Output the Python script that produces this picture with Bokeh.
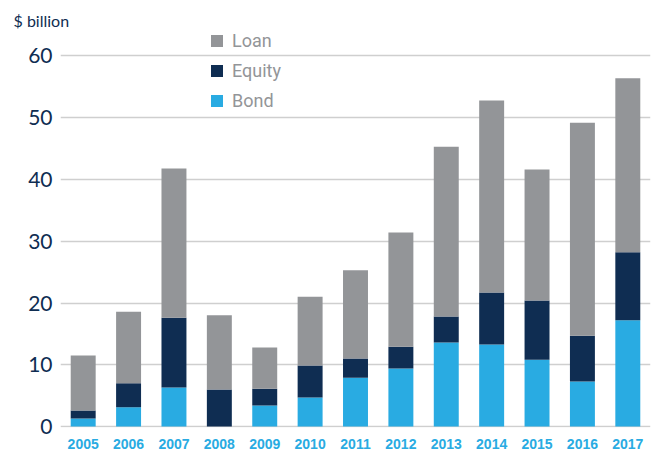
from bokeh.plotting import figure
from bokeh.models import (ColumnDataSource, FactorRange, Range1d, Legend, LegendItem,
                          FixedTicker)
from bokeh.embed import file_html
from bokeh.resources import INLINE

years = ["2005", "2006", "2007", "2008", "2009", "2010", "2011",
         "2012", "2013", "2014", "2015", "2016", "2017"]
bond = [1.3, 3.1, 6.3, 0.0, 3.4, 4.7, 7.9, 9.4, 13.6, 13.3, 10.8, 7.3, 17.2]
equity = [1.3, 3.9, 11.3, 6.0, 2.7, 5.2, 3.1, 3.5, 4.2, 8.4, 9.6, 7.4, 11.0]
loan = [8.9, 11.6, 24.2, 12.0, 6.7, 11.1, 14.3, 18.5, 27.5, 31.1, 21.2, 34.5, 28.2]
y_ticks = [0, 10, 20, 30, 40, 50, 60]

BLUE = "#29abe2"
NAVY = "#0f2d52"
GRAY = "#939598"

source = ColumnDataSource(dict(year=years, bond=bond, equity=equity, loan=loan))

p = figure(
    x_range=FactorRange(*years),
    y_range=Range1d(-0.16, 64.29),
    width=652, height=455,
    output_backend="svg", toolbar_location=None,
    min_border_left=60, min_border_right=2, min_border_top=29, min_border_bottom=28,
    title="$ billion",
)
p.outline_line_color = None
p.background_fill_color = "white"

p.title.text_font = "Lato"
p.title.text_font_size = "16px"
p.title.text_font_style = "normal"
p.title.text_color = NAVY
p.title.align = "left"
p.title.offset = -47
p.title.standoff = 0

renderers = p.vbar_stack(["bond", "equity", "loan"], x="year", width=0.55,
                         fill_color=[BLUE, NAVY, GRAY], line_color=None, source=source)

# axes
p.xaxis.axis_line_color = None
p.xaxis.major_tick_line_color = None
p.xaxis.minor_tick_line_color = None
p.xaxis.major_tick_out = 0
p.xaxis.major_label_standoff = 11
p.xaxis.major_label_text_font = "Liberation Sans"
p.xaxis.major_label_text_font_style = "bold"
p.xaxis.major_label_text_font_size = "14px"
p.xaxis.major_label_text_color = BLUE

p.yaxis.ticker = FixedTicker(ticks=y_ticks)
p.yaxis.axis_line_color = None
p.yaxis.major_tick_line_color = None
p.yaxis.minor_tick_line_color = None
p.yaxis.major_tick_out = 0
p.yaxis.major_label_standoff = 8
p.yaxis.major_label_text_font = "Lato"
p.yaxis.major_label_text_font_size = "21px"
p.yaxis.major_label_text_color = NAVY

p.xgrid.grid_line_color = None
p.ygrid.grid_line_color = "#cfcfcf"
p.ygrid.grid_line_width = 1.5

legend = Legend(
    items=[LegendItem(label="Loan", renderers=[renderers[2]]),
           LegendItem(label="Equity", renderers=[renderers[1]]),
           LegendItem(label="Bond", renderers=[renderers[0]])],
    location=(149, 316), orientation="vertical",
    glyph_width=15, glyph_height=15, label_height=21, spacing=9,
    padding=0, margin=0, border_line_color=None, background_fill_alpha=0,
    label_text_font="Roboto", label_text_font_size="18px",
    label_text_color="#939598", label_standoff=8,
)
p.add_layout(legend)

open("out.html", "w").write(file_html(p, INLINE))
